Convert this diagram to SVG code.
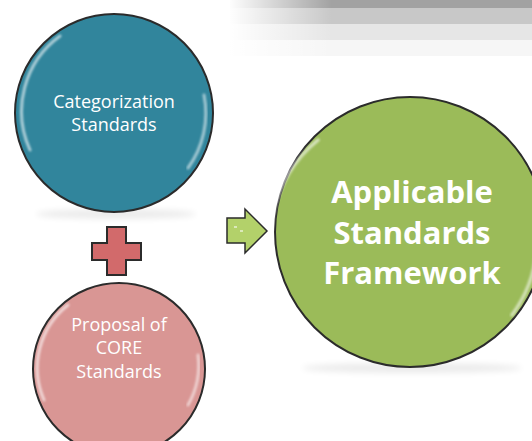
<svg xmlns="http://www.w3.org/2000/svg" width="532" height="441" viewBox="0 0 532 441">
<defs>
<linearGradient id="fade2" x1="0" y1="0" x2="1" y2="0">
<stop offset="0" stop-color="#fff" stop-opacity="1"/>
<stop offset="1" stop-color="#fff" stop-opacity="0"/>
</linearGradient>
<filter id="sh" x="-20%" y="-50%" width="140%" height="200%"><feGaussianBlur stdDeviation="3"/></filter>
<filter id="soft" x="-10%" y="-10%" width="120%" height="120%"><feGaussianBlur stdDeviation="1"/></filter>
</defs>
<style>
.ring{stroke:#2b2b2b;stroke-width:2}
.hl{fill:none;stroke:#fff;stroke-linecap:round;filter:url(#soft)}
.sm{font-family:"Open Sans","Liberation Sans",sans-serif;font-size:18px;fill:#fff;text-anchor:middle}
.lg{font-family:"Open Sans","Liberation Sans",sans-serif;font-size:31px;font-weight:bold;fill:#fff;text-anchor:middle}
.shadow{fill:#000;opacity:0.08}
</style>
<g id="banner">
<rect x="230" y="0" width="302" height="8" fill="#a2a2a2"/>
<rect x="230" y="8" width="302" height="16" fill="#c8c8c8"/>
<rect x="230" y="24" width="302" height="16" fill="#e6e6e6"/>
<rect x="230" y="40" width="302" height="16" fill="#f6f6f6"/>
<rect x="228" y="0" width="104" height="57" fill="url(#fade2)"/>
</g>
<g id="node-categorization">
<ellipse cx="116" cy="214" rx="80" ry="5" class="shadow" filter="url(#sh)"/>
<circle cx="114" cy="113" r="99" fill="#31859c" class="ring"/>
<path d="M 30 150 A 93 93 0 0 1 60 36" class="hl" stroke-width="3" opacity="0.6"/>
<path d="M 204 95 A 93 93 0 0 1 188 168" class="hl" stroke-width="3" opacity="0.55"/>
<text class="sm" x="114" y="108">Categorization</text>
<text class="sm" x="114" y="131">Standards</text>
</g>
<g id="plus">
<path d="M107 227 H126 V243 H141 V260 H126 V275 H107 V260 H92 V243 H107 Z" fill="#d26a6b" stroke="#2b2b2b" stroke-width="2"/>
</g>
<g id="node-proposal">
<circle cx="119" cy="369" r="86" fill="#d99694" class="ring"/>
<path d="M 44 400 A 80 80 0 0 1 68 305" class="hl" stroke-width="3" opacity="0.6"/>
<path d="M 198 355 A 80 80 0 0 1 188 405" class="hl" stroke-width="3" opacity="0.55"/>
<text class="sm" x="119" y="331">Proposal of</text>
<text class="sm" x="119" y="354">CORE</text>
<text class="sm" x="119" y="378">Standards</text>
</g>
<g id="connectors">
<path d="M227 218 H245 V209 L267 231 L245 253 V243 H227 Z" fill="#b3d16a" stroke="#2b2b2b" stroke-width="1.5"/>
<path d="M234 227 h3 M240 231 h3" stroke="#fff" stroke-width="1.5" opacity="0.7"/>
</g>
<g id="node-framework">
<ellipse cx="412" cy="368" rx="110" ry="5" class="shadow" filter="url(#sh)"/>
<circle cx="410" cy="232" r="135" fill="#9bbb59" class="ring"/>
<path d="M 286 300 A 128 128 0 0 1 318 140" class="hl" stroke-width="3.5" opacity="0.6"/>
<path d="M 537 240 A 128 128 0 0 1 512 315" class="hl" stroke-width="3.5" opacity="0.55"/>
<text class="sm lg" x="412" y="203">Applicable</text>
<text class="sm lg" x="412" y="244">Standards</text>
<text class="sm lg" x="412" y="284">Framework</text>
</g>
</svg>
